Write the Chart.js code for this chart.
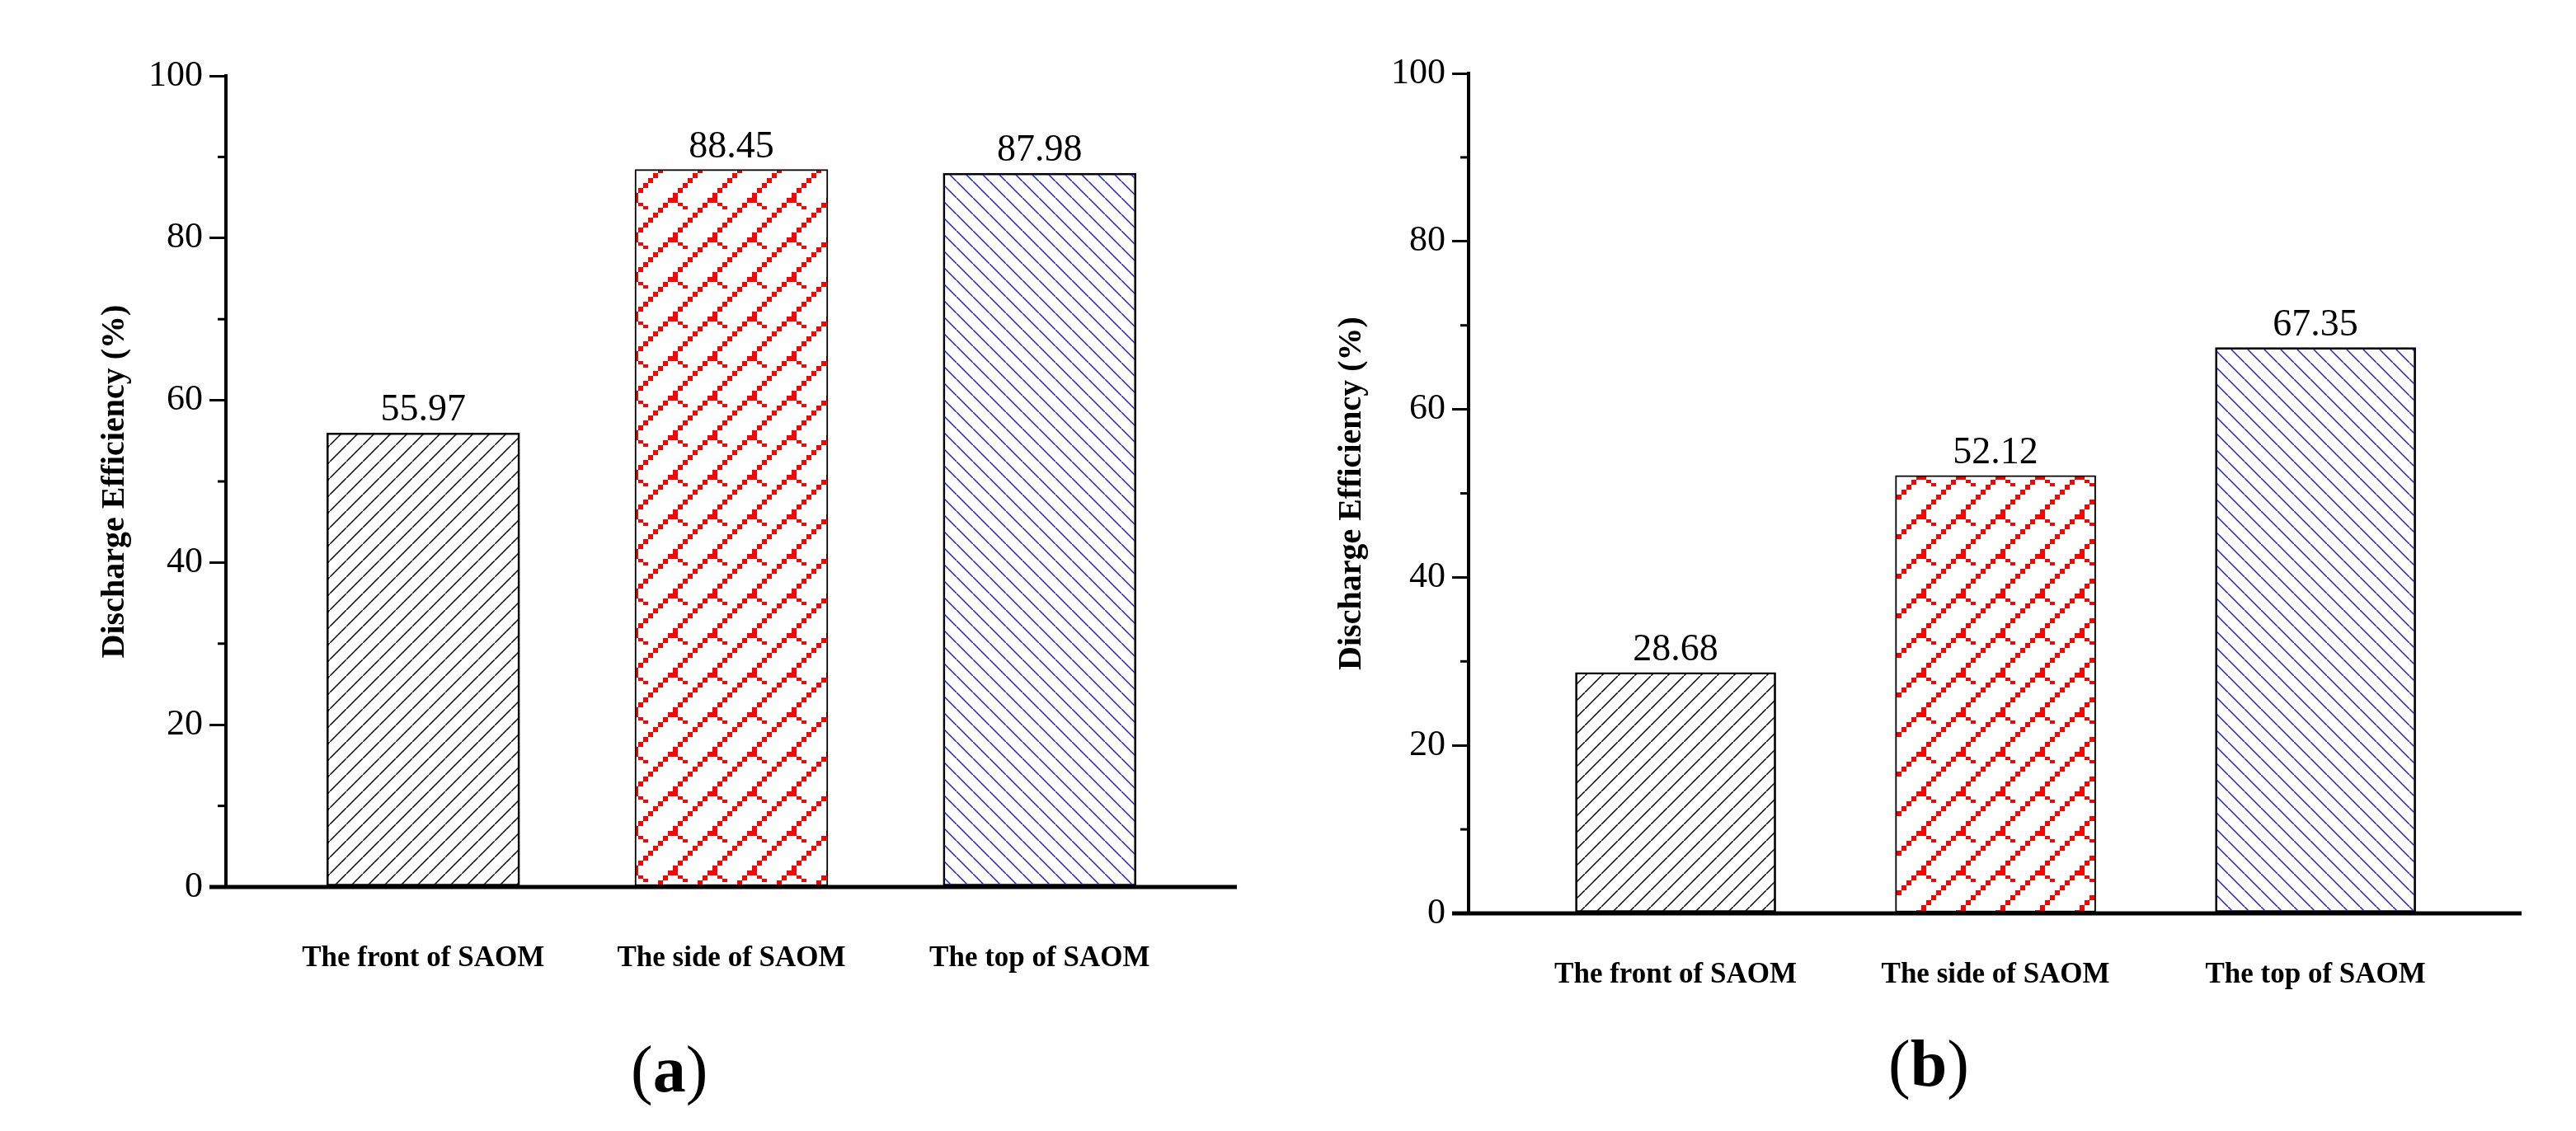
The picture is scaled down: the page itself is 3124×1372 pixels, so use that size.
<!DOCTYPE html>
<html><head><meta charset="utf-8">
<script src="https://cdn.jsdelivr.net/npm/chart.js@4"></script>
<style>
body{margin:0;background:#fff;width:3124px;height:1372px;overflow:hidden;position:relative;font-family:"Liberation Serif",serif}
.wrap{position:absolute;top:0;width:1562px;height:1372px}
.lab{position:absolute;font-size:80px;font-family:"Liberation Serif",serif}
.lab b{font-weight:bold}
</style></head><body>
<div class="wrap" style="left:0"><canvas id="c1"></canvas></div>
<div class="wrap" style="left:1562px"><canvas id="c2"></canvas></div>
<div class="lab" style="left:765px;top:1252px">(<b>a</b>)</div>
<div class="lab" style="left:2290px;top:1245px">(<b>b</b>)</div>
<script>
const categories = ["The front of SAOM","The side of SAOM","The top of SAOM"];
const valuesA = [55.97, 88.45, 87.98];
const valuesB = [28.68, 52.12, 67.35];
const yTickLabels = [0,20,40,60,80,100];
const yTitle = "Discharge Efficiency (%)";

function tile(draw,w,h){const c=document.createElement('canvas');c.width=w;c.height=h;const x=c.getContext('2d');draw(x);return x.createPattern(c,'repeat');}
const pBlack = tile(x=>{x.strokeStyle='#000';x.lineWidth=1.5;x.beginPath();x.moveTo(-2,22);x.lineTo(22,-2);x.stroke();},20,20);
const pBlue = tile(x=>{x.strokeStyle='#1a1aff';x.lineWidth=1.5;x.beginPath();x.moveTo(-2,-2);x.lineTo(22,22);x.stroke();},20,20);
const pRed = tile(x=>{x.fillStyle='#fff';x.fillRect(0,0,48,48);x.fillStyle='#f00';
  for(let i=0;i<8;i++){x.fillRect(i*6,42-i*6,6,6);}
  x.fillRect(0,0,6,6);x.fillRect(6,6,6,4);x.fillRect(12,10,6,4);
  x.fillRect(42,0,6,6);x.fillRect(36,6,4,4);},48,48);

function makeChart(id,vals,cfg){
  const tickPlugin={id:'deco'+id,afterDraw(ch){
    const c=ch.ctx,y=ch.scales.y,a=ch.chartArea;
    c.save();c.strokeStyle='#000';
    c.lineWidth=3;
    for(let v=10;v<100;v+=20){const py=y.getPixelForValue(v);c.beginPath();c.moveTo(a.left-10,py);c.lineTo(a.left,py);c.stroke();}
    c.lineWidth=5;c.beginPath();c.moveTo(a.left-20,y.getPixelForValue(0));c.lineTo(a.right,y.getPixelForValue(0));c.stroke();
    c.fillStyle='#000';c.font='46px "Liberation Serif"';c.textAlign='center';c.textBaseline='bottom';
    ch.getDatasetMeta(0).data.forEach((b,i)=>{c.fillText(vals[i].toFixed(2),b.x,b.y-4);});
    c.translate(cfg.titleX,(a.top+a.bottom)/2);c.rotate(-Math.PI/2);
    c.font='bold 40px "Liberation Serif"';c.textBaseline='middle';c.fillText(yTitle,0,0);
    c.restore();}};
  return new Chart(document.getElementById(id),{
    type:'bar',
    data:{datasets:[{data:vals.map((v,i)=>({x:i+1,y:v})),backgroundColor:[pBlack,pRed,pBlue],borderColor:'#000',borderWidth:2,borderSkipped:false,barThickness:cfg.bw}]},
    options:{responsive:false,animation:false,devicePixelRatio:1,
      layout:{padding:{top:cfg.top,right:cfg.right,left:0,bottom:0}},
      plugins:{legend:{display:false},tooltip:{enabled:false}},
      scales:{
        x:{type:'linear',min:cfg.min,max:cfg.max,offset:false,
          afterBuildTicks(s){s.ticks=[1,2,3].map(v=>({value:v}));},
          afterFit(s){s.height=cfg.xh;},
          grid:{display:false,offset:false},border:{display:false},
          ticks:{padding:cfg.xpad,color:'#000',maxRotation:0,autoSkip:false,font:{family:'Liberation Serif',weight:'bold',size:35},callback:(v)=>categories[v-1]}},
        y:{min:0,max:100,
          afterBuildTicks(s){s.ticks=yTickLabels.map(v=>({value:v}));},
          afterFit(s){s.width=cfg.yw;},
          grid:{drawOnChartArea:false,drawTicks:true,tickLength:20,color:'#000',lineWidth:3},
          border:{display:true,color:'#000',width:4},
          ticks:{padding:8,color:'#000',font:{family:'Liberation Serif',size:44}}}
      }},
    plugins:[tickPlugin]});
}
const w=1562,h=1372;
for(const id of ['c1','c2']){const e=document.getElementById(id);e.width=w;e.height=h;e.style.width=w+'px';e.style.height=h+'px';}
makeChart('c1',valuesA,{top:92,right:62,yw:274,xh:296,min:0.36,max:3.64,bw:234,xpad:58,titleX:140});
makeChart('c2',valuesB,{top:89,right:66,yw:219,xh:264,min:0.353,max:3.644,bw:243,xpad:46,titleX:78});
</script></body></html>
